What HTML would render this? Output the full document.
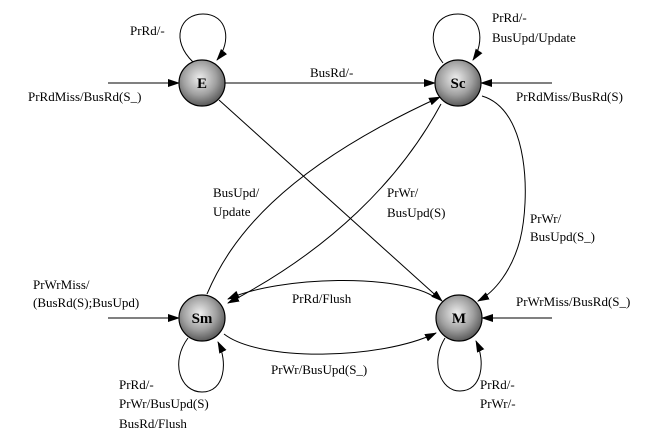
<!DOCTYPE html>
<html><head><meta charset="utf-8"><style>
html,body{margin:0;padding:0;background:#fff;}
svg text{font-family:"Liberation Serif",serif;font-size:13px;fill:#000;}
</style></head><body>
<svg width="663" height="442" viewBox="0 0 663 442" xmlns="http://www.w3.org/2000/svg">
<defs>
<radialGradient id="g" cx="0.45" cy="0.4" r="0.6">
<stop offset="0" stop-color="#eeeeee"/><stop offset="0.6" stop-color="#a0a0a0"/><stop offset="1" stop-color="#5a5a5a"/>
</radialGradient>
<marker id="a" markerWidth="12" markerHeight="8" refX="11" refY="4" orient="auto" markerUnits="userSpaceOnUse">
<path d="M0,0 L12,4 L0,8 Z" fill="#000"/></marker>
</defs>
<g fill="none" stroke="#000" stroke-width="1">
<path d="M193,62 C170,40 180,14 203,14 C228,14 232,42 217,60" marker-end="url(#a)"/>
<path d="M443,63 C425,40 433,14 458,14 C482,14 485,42 473,60" marker-end="url(#a)"/>
<path d="M108,83 L179,83" marker-end="url(#a)"/>
<path d="M225,83 L435,83" marker-end="url(#a)"/>
<path d="M552,83 L481,83" marker-end="url(#a)"/>
<path d="M108,318 L179,318" marker-end="url(#a)"/>
<path d="M552,318 L482,318" marker-end="url(#a)"/>
<path d="M219,100 L442,301" marker-end="url(#a)"/>
<path d="M207,294 C230,240 280,170 440,97" marker-end="url(#a)"/>
<path d="M441,104 C400,180 330,250 228,303" marker-end="url(#a)"/>
<path d="M482,96 C530,110 530,200 520,240 C512,270 495,292 478,301" marker-end="url(#a)"/>
<path d="M436,298 C400,273 280,276 228,299" marker-end="url(#a)"/>
<path d="M224,334 C260,362 380,360 436,333" marker-end="url(#a)"/>
<path d="M188,338 C170,362 180,392 202,392 C225,392 228,362 218,342" marker-end="url(#a)"/>
<path d="M445,338 C430,362 440,391 460,391 C482,391 486,362 476,341" marker-end="url(#a)"/>
</g>
<g stroke="#000" stroke-width="1.2" fill="url(#g)">
<circle cx="202" cy="83" r="23"/>
<circle cx="458" cy="83" r="23"/>
<circle cx="202" cy="318" r="23"/>
<circle cx="459" cy="318" r="23"/>
</g>
<g text-anchor="middle">
<text x="202" y="88" style="font-weight:bold;font-size:15px">E</text>
<text x="458" y="88" style="font-weight:bold;font-size:15px">Sc</text>
<text x="202" y="323" style="font-weight:bold;font-size:15px">Sm</text>
<text x="459" y="323" style="font-weight:bold;font-size:15px">M</text>
</g>
<text x="130" y="35">PrRd/-</text>
<text x="28" y="101">PrRdMiss/BusRd(S_)</text>
<text x="310" y="77">BusRd/-</text>
<text x="492" y="22">PrRd/-</text>
<text x="492" y="42">BusUpd/Update</text>
<text x="516" y="101">PrRdMiss/BusRd(S)</text>
<text x="213" y="197">BusUpd/</text>
<text x="213" y="216">Update</text>
<text x="387" y="197">PrWr/</text>
<text x="387" y="217">BusUpd(S)</text>
<text x="530" y="223">PrWr/</text>
<text x="530" y="241">BusUpd(S_)</text>
<text x="33" y="289">PrWrMiss/</text>
<text x="33" y="307">(BusRd(S);BusUpd)</text>
<text x="292" y="303">PrRd/Flush</text>
<text x="516" y="306">PrWrMiss/BusRd(S_)</text>
<text x="271" y="374">PrWr/BusUpd(S_)</text>
<text x="119" y="389">PrRd/-</text>
<text x="119" y="408">PrWr/BusUpd(S)</text>
<text x="119" y="428">BusRd/Flush</text>
<text x="480" y="389">PrRd/-</text>
<text x="480" y="408">PrWr/-</text>
</svg>
</body></html>
